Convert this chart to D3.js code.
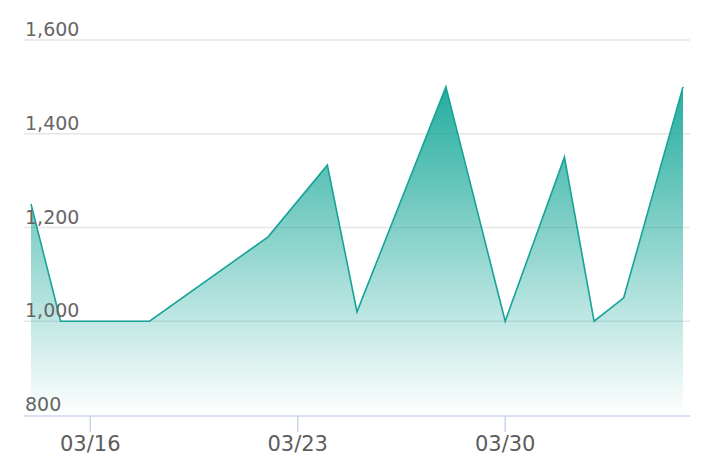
<!DOCTYPE html>
<html>
<head>
<meta charset="utf-8">
<script src="https://cdn.jsdelivr.net/npm/d3@7"></script>
<style>
  html, body { margin: 0; padding: 0; background: #fff; }
  svg { display: block; font-family: "DejaVu Sans", sans-serif; }
  .grid line { stroke: #e6e6e6; stroke-width: 1.5px; }
  .y-label { fill: #666; font-size: 19px; }
  .x-label { fill: #5c5c5c; font-size: 21px; text-anchor: middle; }
  .baseline { stroke: #ccd6eb; stroke-width: 1.5px; }
  .tick-mark { stroke: #ccd6eb; stroke-width: 1.5px; }
  .line { fill: none; stroke: #17a398; stroke-width: 1.6px; }
</style>
</head>
<body>
<svg width="706" height="476"></svg>
<script>
// data
const dates = ['2024-03-14', '2024-03-15', '2024-03-18', '2024-03-22', '2024-03-24', '2024-03-25',
  '2024-03-28', '2024-03-30', '2024-04-01', '2024-04-02', '2024-04-03', '2024-04-05'];
const values = [1250, 1000, 1000, 1180, 1333, 1020, 1500, 1000, 1350, 1000, 1050, 1500];
const yTicks = [800, 1000, 1200, 1400, 1600];
const xTicks = ['2024-03-16', '2024-03-23', '2024-03-30'];

const parse = d3.timeParse('%Y-%m-%d');
const data = dates.map((d, i) => ({ date: parse(d), value: values[i] }));

const svg = d3.select('svg');
const left = 24, right = 690;

const x = d3.scaleTime()
  .domain([parse(dates[0]), parse(dates[dates.length - 1])])
  .range([31, 683]);
const y = d3.scaleLinear().domain([800, 1600]).range([415, 40]);

// gradient for the area
const defs = svg.append('defs');
const grad = defs.append('linearGradient')
  .attr('id', 'fillGrad')
  .attr('gradientUnits', 'userSpaceOnUse')
  .attr('x1', 0).attr('x2', 0)
  .attr('y1', y(1500)).attr('y2', y(800));
grad.append('stop').attr('offset', 0).attr('stop-color', '#1eaa9c').attr('stop-opacity', 0.97);
grad.append('stop').attr('offset', 1).attr('stop-color', '#1eaa9c').attr('stop-opacity', 0.0);

// gridlines
const grid = svg.append('g').attr('class', 'grid');
grid.selectAll('line')
  .data(yTicks.filter(t => t !== 800))
  .enter().append('line')
  .attr('x1', left).attr('x2', right)
  .attr('y1', d => y(d)).attr('y2', d => y(d));

// area + line
const area = d3.area()
  .x(d => x(d.date))
  .y0(y(800))
  .y1(d => y(d.value));
svg.append('path')
  .datum(data)
  .attr('fill', 'url(#fillGrad)')
  .attr('d', area);

const line = d3.line()
  .x(d => x(d.date))
  .y(d => y(d.value));
svg.append('path')
  .datum(data)
  .attr('class', 'line')
  .attr('d', line);

// y labels sit above their gridlines
svg.selectAll('.y-label')
  .data(yTicks)
  .enter().append('text')
  .attr('class', 'y-label')
  .attr('x', 25)
  .attr('y', d => y(d) - 4)
  .text(d => d3.format(',')(d));

// x axis
svg.append('line')
  .attr('class', 'baseline')
  .attr('x1', left).attr('x2', right)
  .attr('y1', y(800) + 1).attr('y2', y(800) + 1);

const fmt = d3.timeFormat('%m/%d');
const xt = svg.selectAll('.x-tick')
  .data(xTicks.map(parse))
  .enter().append('g')
  .attr('transform', d => `translate(${x(d)},0)`);
xt.append('line')
  .attr('class', 'tick-mark')
  .attr('y1', y(800) + 1).attr('y2', y(800) + 17);
xt.append('text')
  .attr('class', 'x-label')
  .attr('y', 451)
  .text(d => fmt(d));
</script>
</body>
</html>
